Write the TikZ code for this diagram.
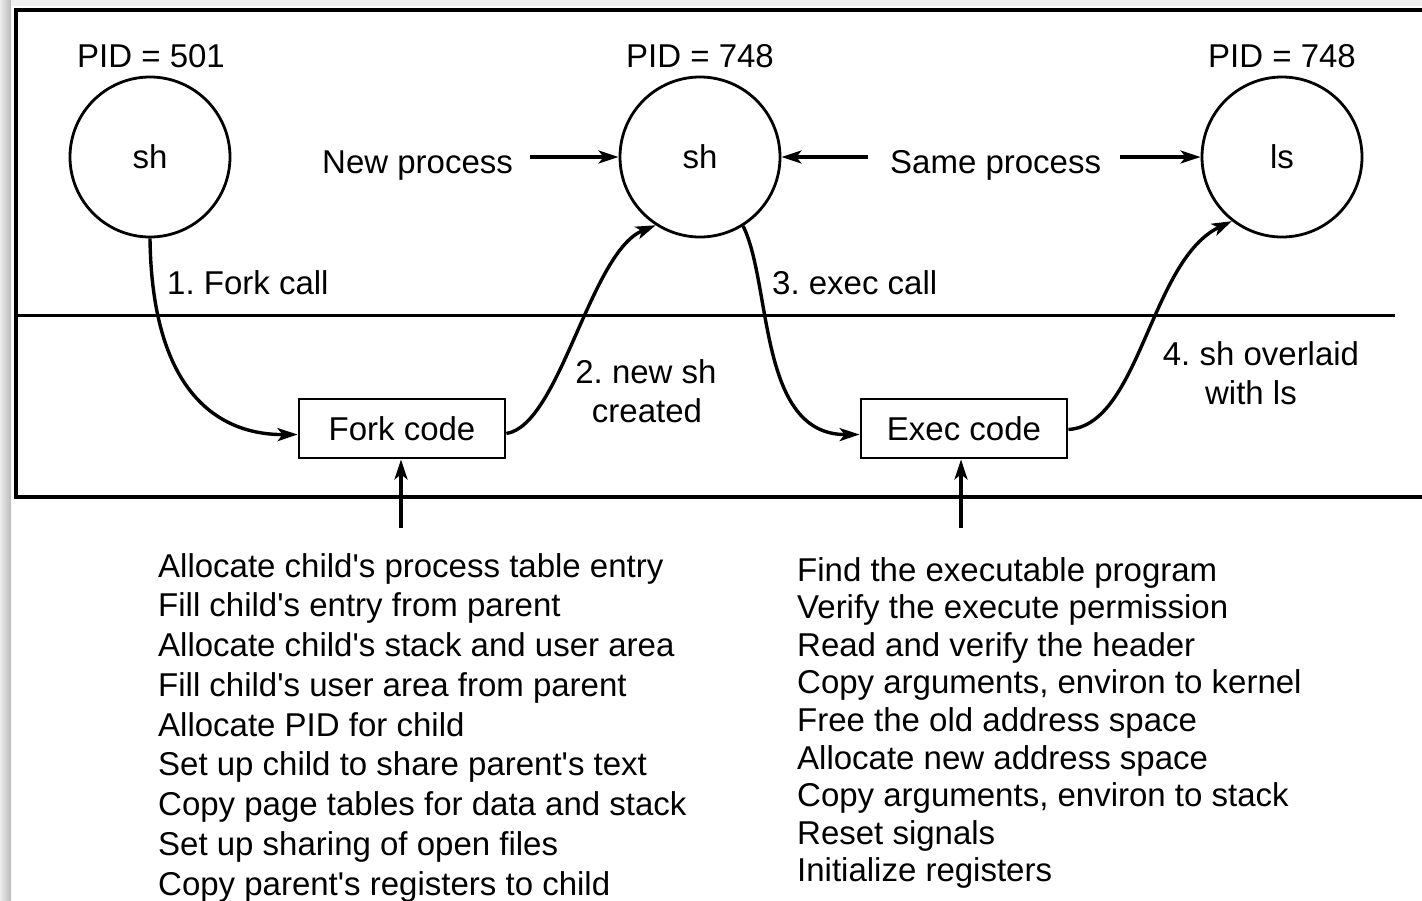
\documentclass[tikz,border=0pt]{standalone}
\usepackage{fontspec}
\setmainfont{Liberation Sans}[Ligatures=TeXOff]
\usetikzlibrary{arrows.meta}
\frenchspacing
\begin{document}
\begin{tikzpicture}[x=1pt,y=-1pt,
  every node/.style={font=\fontsize{33}{40}\selectfont\frenchspacing},
  proc/.style={draw,circle,line width=2.8pt,minimum size=160pt,inner sep=0pt},
  codebox/.style={draw,rectangle,line width=2.8pt,minimum width=206pt,minimum height=59pt,inner sep=0pt},
  conn/.style={line width=3.4pt,-{Stealth[length=20pt,width=13pt,inset=5pt]}},
  lbl/.style={anchor=base,inner sep=0pt},
  lblw/.style={anchor=base west,inner sep=0pt}]
\useasboundingbox (0,0) rectangle (1422,900);
\fill[white] (0,0) rectangle (1422,900);
\shade[left color=gray!15,right color=gray!55] (0,0) rectangle (11,900);
\fill[gray!12] (11,0) rectangle (1422,6);
% frame
\draw[line width=4pt] (1440,10) -- (16,10) -- (16,497) -- (1440,497);
\draw[line width=3pt] (16,315) -- (1395,315);
% processes
\node[proc] (p1) at (150,157) {sh};
\node[proc] (p2) at (700,157) {sh};
\node[proc] (p3) at (1282,157) {ls};
\node[lbl] (pid1) at (151,67) {PID = 501};
\node[lbl] (pid2) at (700,67) {PID = 748};
\node[lbl] (pid3) at (1282,67) {PID = 748};
% code boxes
\node[codebox] (fork) at (402,428.5) {Fork code};
\node[codebox] (exec) at (964,428.5) {Exec code};
% top labels
\node[lblw] (newp) at (322,173) {New process};
\node[lblw] (samep) at (890,173) {Same process};
\coordinate (na) at (530,157);
\coordinate (sl) at (868,157);
\coordinate (sr) at (1120,157);
\draw[conn] (na) -- (p2.west);
\draw[conn] (sl) -- (p2.east);
\draw[conn] (sr) -- (p3.west);
% step labels
\node[lblw] (l1) at (167,294) {1. Fork call};
\node[lblw] (l3) at (772,294) {3. exec call};
\node[lbl] (l2a) at (646,383) {2. new sh};
\node[lbl] (l2b) at (647,422) {created};
\node[lbl] (l4a) at (1261,365) {4. sh overlaid};
\node[lbl] (l4b) at (1251,404) {with ls};
% curves
\draw[conn] (p1.south) .. controls (152,400) and (225,435) .. ([yshift=-6pt]fork.west);
\draw[conn] ([yshift=-5pt]fork.east) .. controls (560,425) and (590,252) .. (p2.-123);
\draw[conn] (p2.-58) .. controls (772,285) and (758,435) .. ([yshift=-6pt]exec.west);
\draw[conn] ([yshift=-1pt]exec.east) .. controls (1140,425) and (1150,260) .. (p3.-128);
% up arrows
\coordinate (fu) at (401,528);
\coordinate (eu) at (961,528);
\draw[conn] (fu) -- (fu |- fork.south);
\draw[conn] (eu) -- (eu |- exec.south);
% lists
\foreach \t [count=\i from 0] in {Allocate child's process table entry,
  Fill child's entry from parent,
  Allocate child's stack and user area,
  Fill child's user area from parent,
  Allocate PID for child,
  Set up child to share parent's text,
  Copy page tables for data and stack,
  Set up sharing of open files,
  Copy parent's registers to child}
  \node[lblw] (fl\i) at (158,577+39.75*\i) {\t};
\foreach \t [count=\i from 0] in {Find the executable program,
  Verify the execute permission,
  Read and verify the header,
  {Copy arguments, environ to kernel},
  Free the old address space,
  Allocate new address space,
  {Copy arguments, environ to stack},
  Reset signals,
  Initialize registers}
  \node[lblw] (el\i) at (797,581+37.6*\i) {\t};
\end{tikzpicture}
\end{document}
